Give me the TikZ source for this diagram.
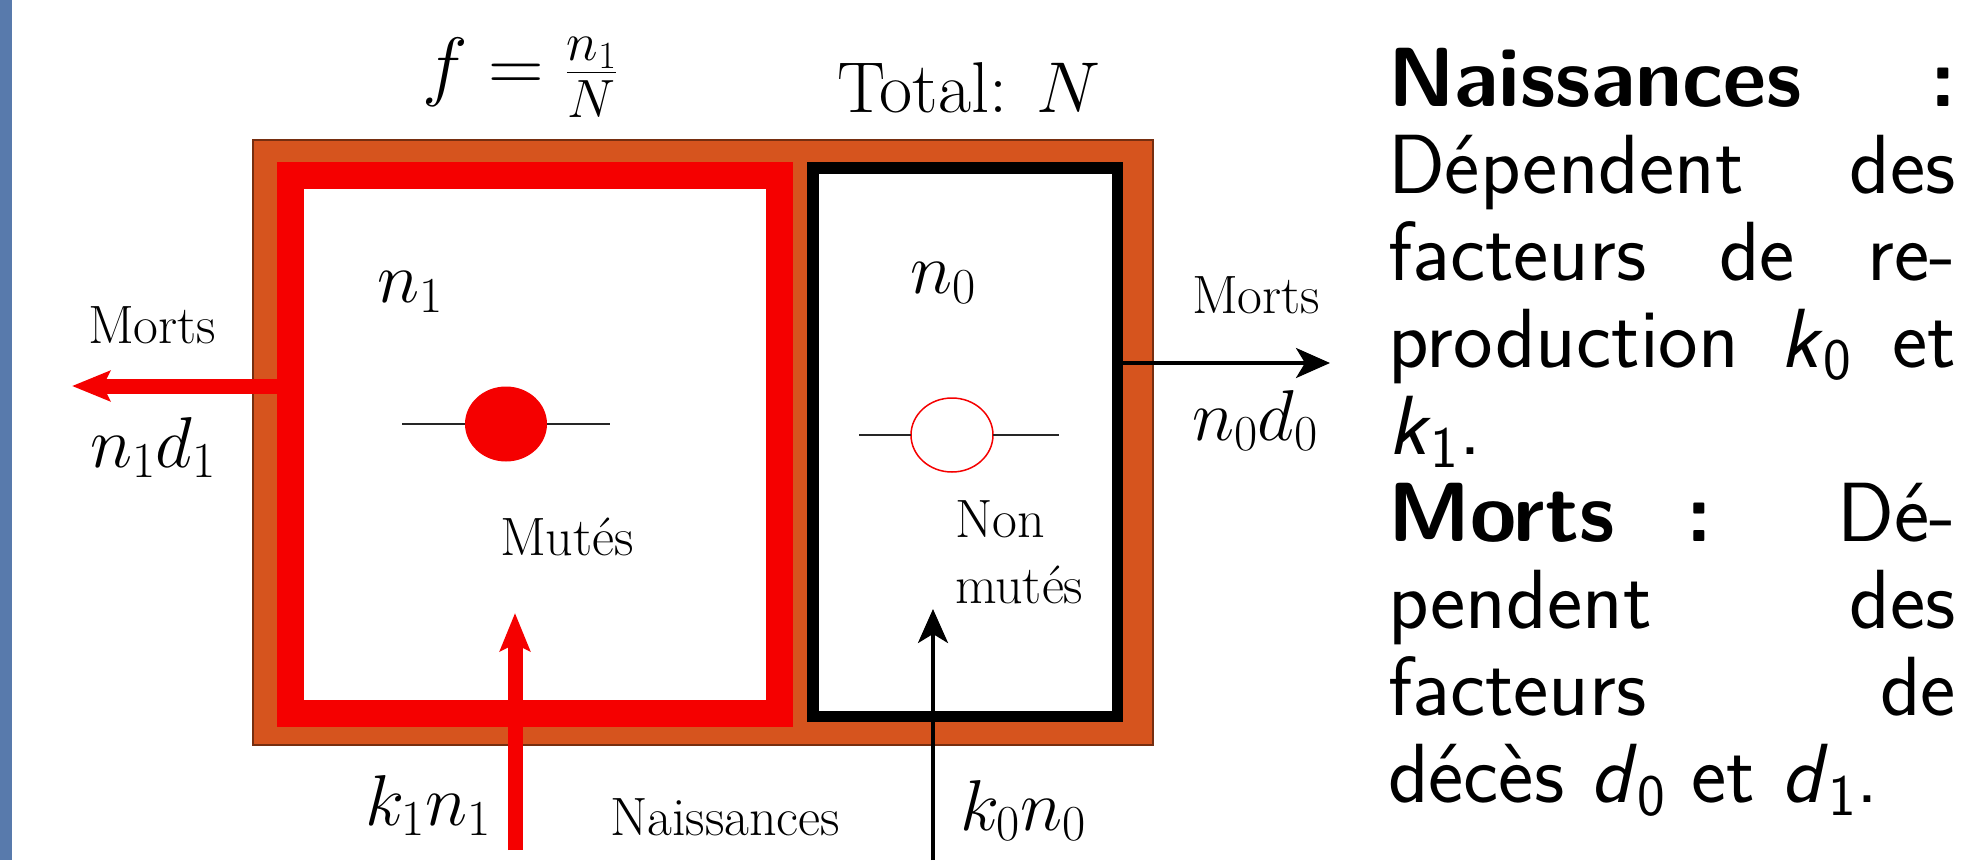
\RequirePackage{fix-cm}
\documentclass[tikz,border=0pt]{standalone}
\usepackage{fontspec}
\usetikzlibrary{arrows.meta,shapes.geometric}
\definecolor{orangeT}{RGB}{214,84,30}
\definecolor{redT}{RGB}{245,0,0}
\definecolor{blueT}{RGB}{88,122,172}
\newcommand{\ssm}[2]{\textit{#1}\textsubscript{#2}}
\tikzset{
  lbl/.style={inner sep=0pt, outer sep=0pt, anchor=base west},
  smalltxt/.style={lbl, font=\fontsize{54}{65}\selectfont},
  largetxt/.style={lbl, font=\fontsize{72}{86}\selectfont},
  rtext/.style={lbl, font=\sffamily\fontsize{84}{87}\selectfont},
  boxnode/.style={inner sep=0pt, outer sep=0pt},
  redarrow/.style={line width=15pt, redT, -{Stealth[length=38pt,width=30pt,inset=7pt]}},
  blackarrow/.style={line width=3.5pt, black, -{Stealth[length=34pt,width=30pt,inset=9pt]}},
  thinline/.style={line width=2.5pt, black!85},
}
\newlength{\rw}\setlength{\rw}{568pt}
\begin{document}
\begin{tikzpicture}[x=1pt,y=-1pt]
\useasboundingbox (0,0) rectangle (1963,860);
\fill[blueT] (0,0) rectangle (12,860);

% boxes
\node[boxnode, fill=orangeT, draw=orangeT!55!black, line width=1.5pt,
      minimum width=900pt, minimum height=605pt] (outer) at (703,442.5) {};
\node[boxnode, fill=white, draw=redT, line width=27pt,
      minimum width=489pt, minimum height=538pt] (rbox) at (535,444.5) {};
\node[boxnode, fill=white, draw=black, line width=11.5pt,
      minimum width=304.5pt, minimum height=548.5pt] (bbox) at (965,442) {};

% mutated individual
\node[boxnode, ellipse, fill=redT, minimum width=82pt, minimum height=75pt] (c1) at (506,424) {};
\coordinate (c1l) at (402,424);
\coordinate (c1r) at (610,424);
\draw[thinline] (c1l) -- (c1.west);
\draw[thinline] (c1.east) -- (c1r);

% non mutated individual
\node[boxnode, ellipse, fill=white, draw=redT, line width=1.5pt, minimum width=82pt, minimum height=74pt] (c0) at (952,435) {};
\coordinate (c0l) at (859,435);
\coordinate (c0r) at (1059,435);
\draw[thinline] (c0l) -- (c0.west);
\draw[thinline] (c0.east) -- (c0r);

% arrows
\coordinate (mortsL) at (72,386);
\draw[redarrow] (rbox.west |- mortsL) -- (mortsL);
\coordinate (mortsR) at (1330,363);
\draw[blackarrow] (bbox.east |- mortsR) -- (mortsR);
\coordinate (nb1) at (515,850);
\coordinate (nt1) at (515,613);
\draw[redarrow] (nb1) -- (nt1);
\coordinate (nb0) at (933,860);
\coordinate (nt0) at (933,609);
\draw[blackarrow] (nb0) -- (nt0);

% labels of the diagram
\node[lbl, font=\fontsize{77}{92}\selectfont] (feq) at (422,91) {$f=\frac{n_1}{N}$};
\node[largetxt] (tot) at (837,112) {Total: $N$};
\node[largetxt] (ln1) at (377,302) {$n_1$};
\node[largetxt] (ln0) at (910,293) {$n_0$};
\node[smalltxt] (mL) at (88,343) {Morts};
\node[largetxt] (nd1) at (90,467) {$n_1d_1$};
\node[smalltxt] (mR) at (1192,313) {Morts};
\node[largetxt] (nd0) at (1192,440) {$n_0d_0$};
\node[smalltxt] (mut) at (500,555) {Mutés};
\node[smalltxt] (non1) at (955,537) {Non};
\node[smalltxt] (non2) at (955,603) {mutés};
\node[largetxt] (kn1) at (365,825) {$k_1n_1$};
\node[smalltxt] (nais) at (610,835) {Naissances};
\node[largetxt] (kn0) at (960,830) {$k_0n_0$};

% explanatory text
\node[rtext] (r1) at (1388,106) {\makebox[\rw][s]{\bfseries Naissances :}};
\node[rtext] (r2) at (1388,193.1) {\makebox[\rw][s]{Dépendent des}};
\node[rtext] (r3) at (1388,280.2) {\makebox[\rw][s]{facteurs de re-}};
\node[rtext] (r4) at (1388,367.3) {\makebox[\rw][s]{production \ssm{k}{0} et}};
\node[rtext] (r5) at (1388,454.4) {\ssm{k}{1}.};
\node[rtext] (r6) at (1388,541.5) {\makebox[\rw][s]{\textbf{Morts} \textbf{:} Dé-}};
\node[rtext] (r7) at (1388,628.6) {\makebox[\rw][s]{pendent des}};
\node[rtext] (r8) at (1388,715.7) {\makebox[\rw][s]{facteurs de}};
\node[rtext] (r9) at (1388,802.8) {décès \ssm{d}{0} et \ssm{d}{1}.};
\end{tikzpicture}
\end{document}
